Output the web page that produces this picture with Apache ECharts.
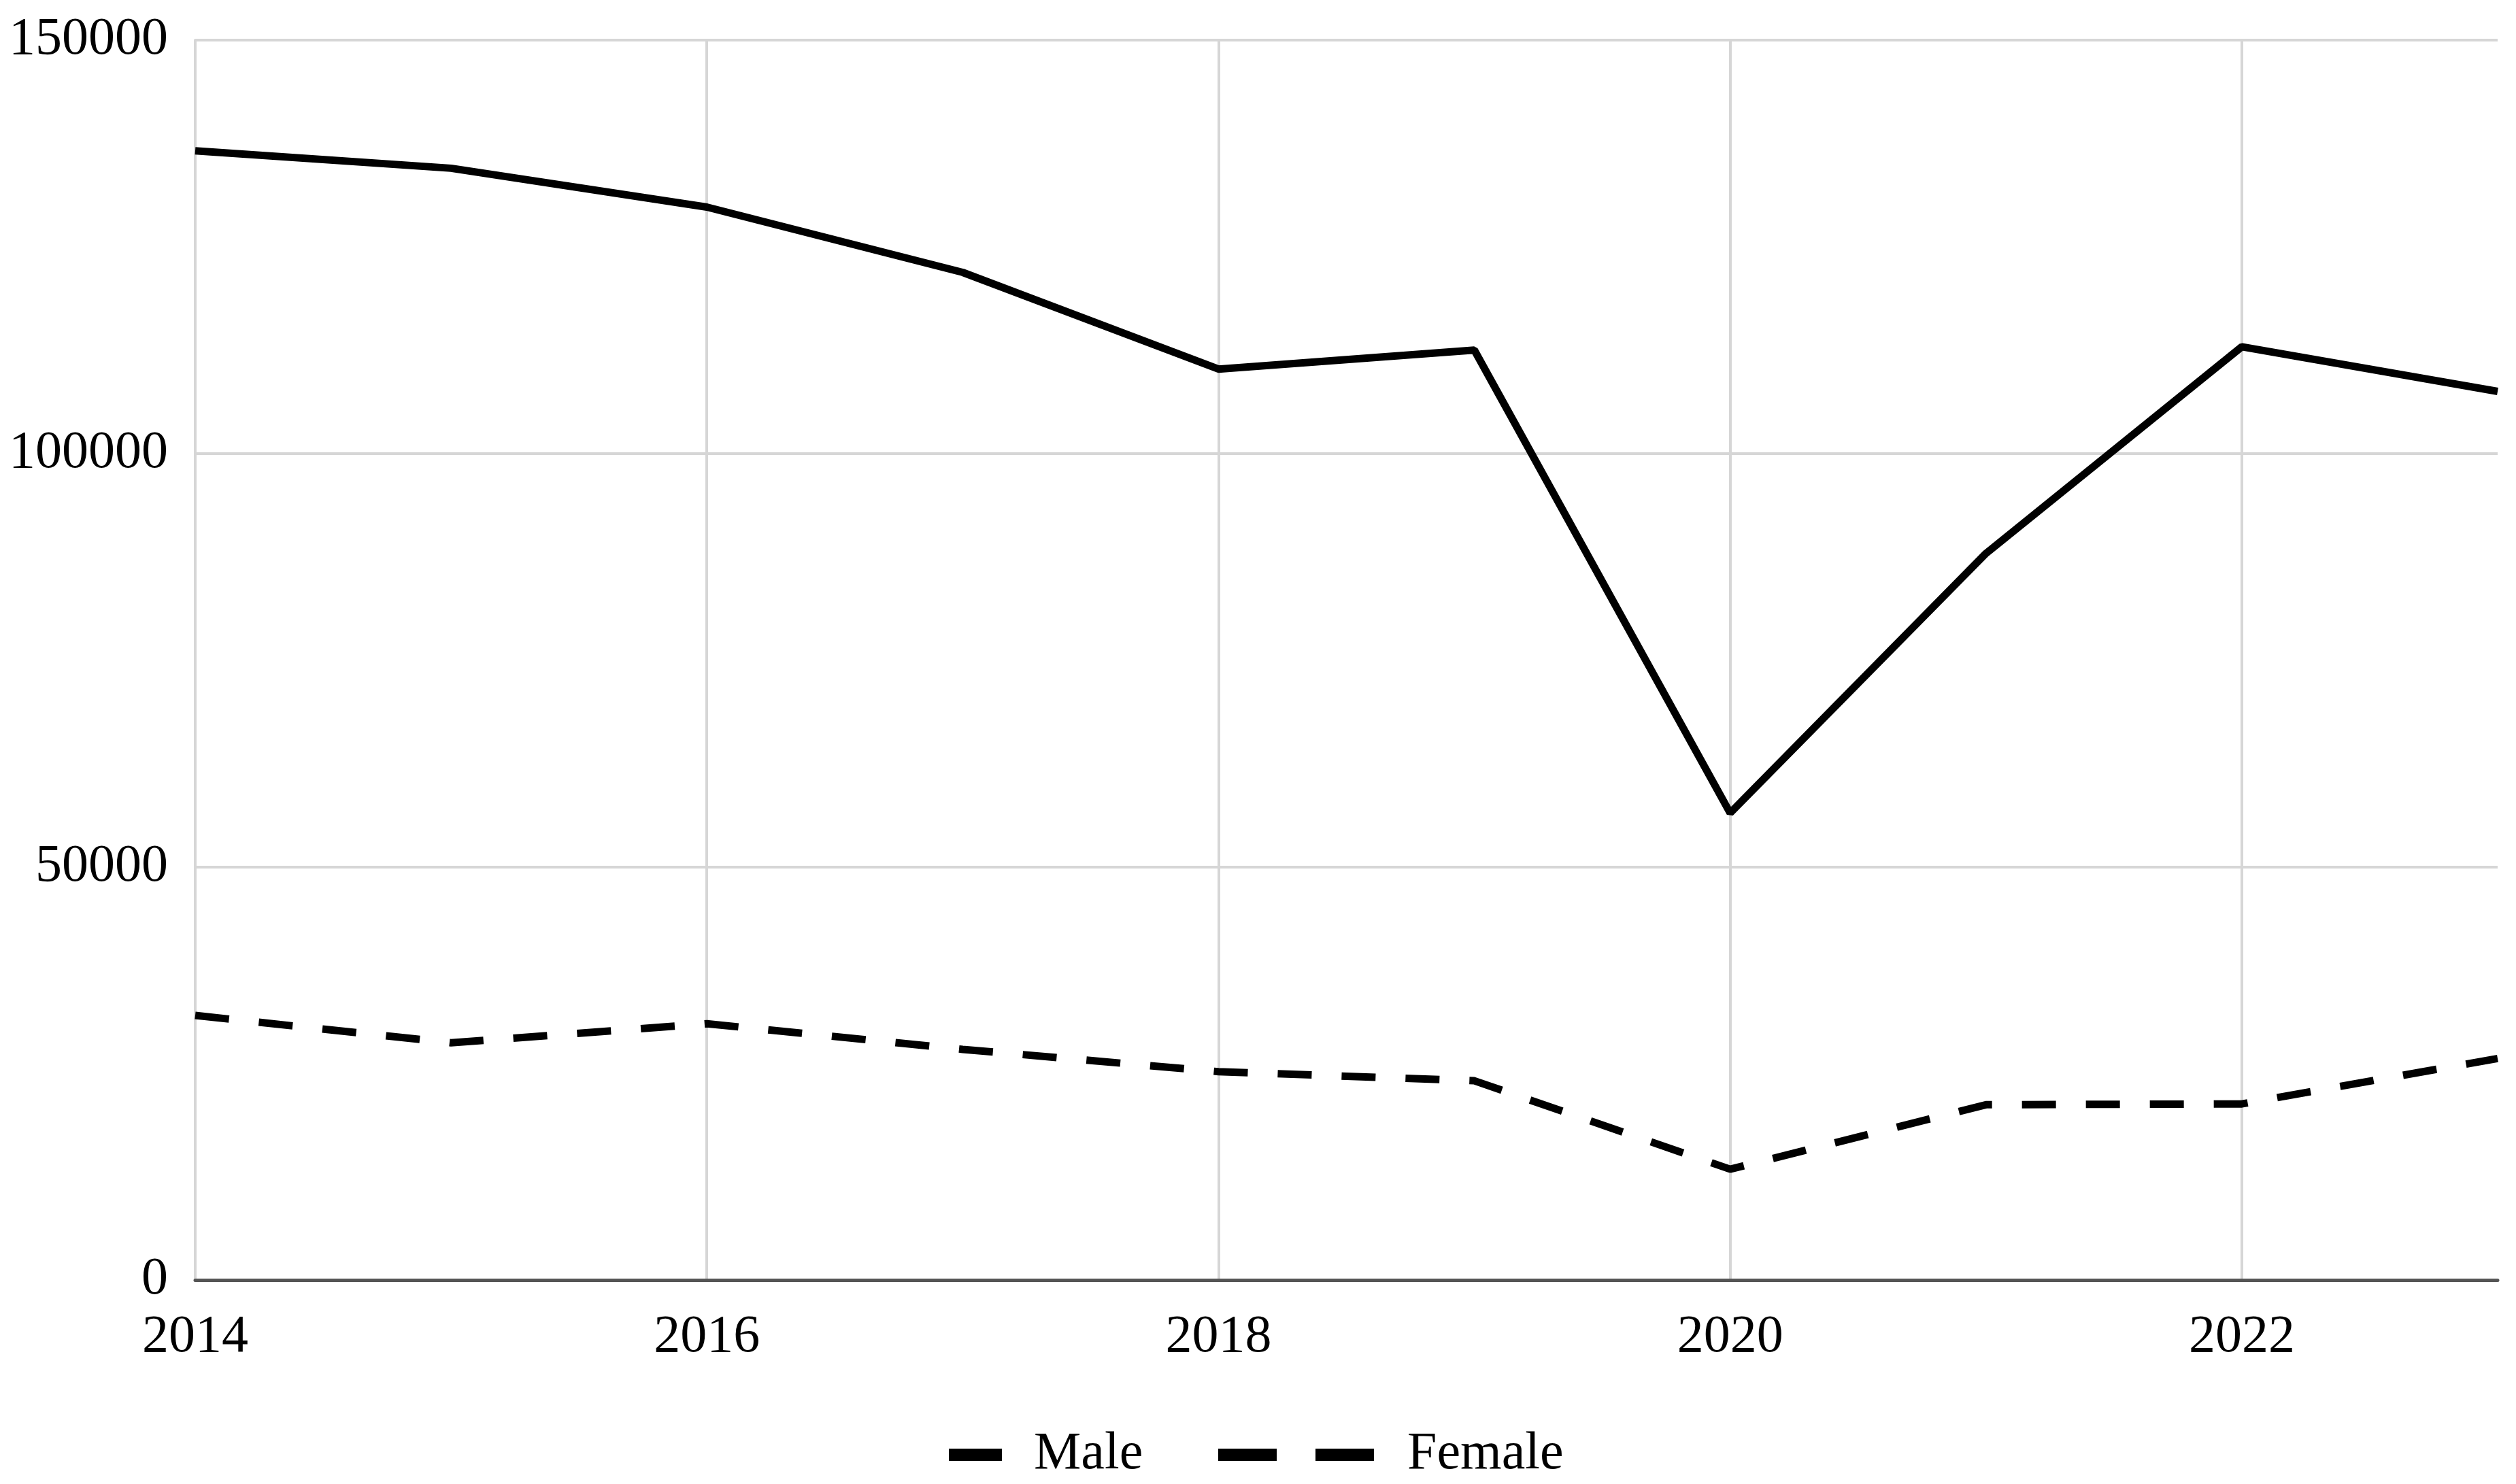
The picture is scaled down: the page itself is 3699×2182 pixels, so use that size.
<!DOCTYPE html>
<html>
<head>
<meta charset="utf-8">
<script src="https://cdn.jsdelivr.net/npm/echarts@6/dist/echarts.min.js"></script>
<style>
html,body{margin:0;padding:0;background:#fff;}
#chart{width:3699px;height:2182px;}
</style>
</head>
<body>
<div id="chart"></div>
<script>
const years = ['2014','2015','2016','2017','2018','2019','2020','2021','2022','2023'];
const maleValues = [136600, 134500, 129800, 121900, 110200, 112500, 56500, 87900, 112900, 107500];
const femaleValues = [32000, 28700, 31000, 27900, 25200, 24100, 13400, 21200, 21300, 26800];
const yTicks = { min: 0, max: 150000, interval: 50000 };

const FONT = '"Liberation Serif", "DejaVu Serif", serif';
const chart = echarts.init(document.getElementById('chart'));
chart.setOption({
  animation: false,
  backgroundColor: '#ffffff',
  grid: { left: 287, right: 27, top: 59, bottom: 300, containLabel: false },
  legend: [
    {
      data: [{ name: 'Male', icon: 'rect' }],
      left: 1390, top: 2095,
      itemWidth: 78, itemHeight: 18, itemGap: 0,
      textStyle: { fontFamily: FONT, fontSize: 78, color: '#000', padding: [0, 0, 0, 42] }
    },
    {
      data: [{ name: 'Female', icon: 'path://M0,0H86V18H0Z M143,0H229V18H143Z' }],
      left: 1786, top: 2095,
      itemWidth: 229, itemHeight: 18, itemGap: 0,
      textStyle: { fontFamily: FONT, fontSize: 78, color: '#000', padding: [0, 0, 0, 44] }
    }
  ],
  xAxis: {
    type: 'category',
    data: years,
    boundaryGap: false,
    axisLine: { show: true, lineStyle: { color: '#555', width: 5 } },
    axisTick: { show: false },
    axisLabel: { interval: 1, fontFamily: FONT, fontSize: 78, color: '#000', margin: 46 },
    splitLine: { show: true, interval: 1, lineStyle: { color: '#d6d6d6', width: 4 } }
  },
  yAxis: {
    type: 'value',
    min: yTicks.min, max: yTicks.max, interval: yTicks.interval,
    axisLine: { show: true, lineStyle: { color: '#d6d6d6', width: 4 } },
    axisTick: { show: false },
    axisLabel: { fontFamily: FONT, fontSize: 78, color: '#000', margin: 40, formatter: function (v) { return String(v); } },
    splitLine: { show: true, lineStyle: { color: '#d6d6d6', width: 4 } }
  },
  series: [
    {
      name: 'Male', type: 'line', data: maleValues,
      symbol: 'none', color: '#000',
      lineStyle: { color: '#000', width: 11, type: 'solid' }
    },
    {
      name: 'Female', type: 'line', data: femaleValues,
      symbol: 'none', color: '#000',
      lineStyle: { color: '#000', width: 11, type: [50, 44] }
    }
  ]
});
</script>
</body>
</html>
